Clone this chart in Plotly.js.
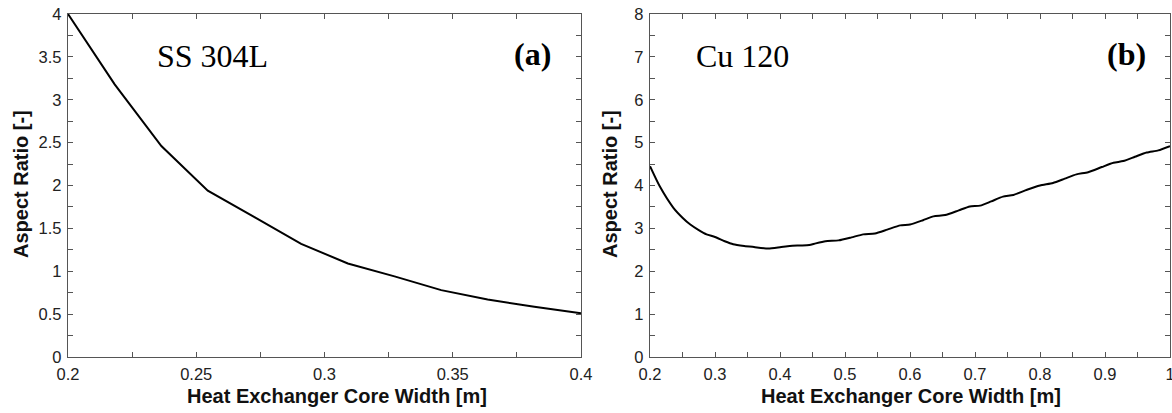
<!DOCTYPE html>
<html>
<head>
<meta charset="utf-8">
<script src="https://cdn.plot.ly/plotly-3.0.1.min.js"></script>
<style>html,body{margin:0;padding:0;background:#fff;}#chart{width:1172px;height:413px;}</style>
</head>
<body>
<div id="chart"></div>
<script>
// Panel (a): SS 304L
const widthA = [0.2, 0.2182, 0.2364, 0.2545, 0.2727, 0.2909, 0.3091, 0.3273, 0.3455, 0.3636, 0.3818, 0.4];
const ratioA = [4.0, 3.18, 2.46, 1.94, 1.63, 1.32, 1.09, 0.94, 0.78, 0.67, 0.585, 0.51];

// Panel (b): Cu 120
const widthB = [0.2, 0.215, 0.236, 0.25, 0.262, 0.275, 0.287, 0.3, 0.315, 0.328, 0.345, 0.36, 0.382, 0.4, 0.415, 0.431,
  0.445, 0.455, 0.47, 0.49, 0.51, 0.528, 0.546, 0.565, 0.585, 0.6, 0.62, 0.636, 0.654, 0.675, 0.692, 0.708, 0.725,
  0.743, 0.759, 0.78, 0.8, 0.82, 0.838, 0.856, 0.874, 0.895, 0.913, 0.928, 0.946, 0.964, 0.982, 1.0];
const ratioB = [4.45, 3.98, 3.48, 3.25, 3.09, 2.96, 2.86, 2.80, 2.70, 2.63, 2.59, 2.565, 2.53, 2.56, 2.59, 2.60,
  2.61, 2.65, 2.70, 2.72, 2.79, 2.86, 2.88, 2.97, 3.07, 3.09, 3.19, 3.28, 3.31, 3.42, 3.51, 3.53, 3.63,
  3.74, 3.78, 3.90, 4.0, 4.06, 4.16, 4.26, 4.31, 4.43, 4.53, 4.57, 4.67, 4.77, 4.82, 4.92];

// Tick values for the x axis of panel (b)
const xTicksB = [0.2, 0.3, 0.4, 0.5, 0.6, 0.7, 0.8, 0.9, 1.0];
const xTickTextB = ["0.2", "0.3", "0.4", "0.5", "0.6", "0.7", "0.8", "0.9", "1"];

const xTitle = "Heat Exchanger Core Width [m]";
const yTitle = "Aspect Ratio [-]";
const labelA = "SS 304L", tagA = "(a)";
const labelB = "Cu 120", tagB = "(b)";

const W = 1172, H = 413;
const axisColor = "#555";
const sans = "Arial, Liberation Sans, sans-serif";
const serif = "Times New Roman, Liberation Serif, serif";
const tickFont = {family: sans, size: 16.5, color: "#222"};
const titleFont = {family: sans, size: 20, color: "#111", weight: "bold"};

function xAxis(domain, range, dtick, minorDtick) {
  return {
    domain: domain, range: range, dtick: dtick, tick0: 0,
    showline: true, linecolor: axisColor, linewidth: 1.2, mirror: "ticks",
    ticks: "inside", ticklen: 5, tickcolor: axisColor, tickwidth: 1,
    minor: {dtick: minorDtick, tick0: 0, ticks: "inside", ticklen: 5, tickcolor: axisColor, tickwidth: 1, showgrid: false},
    showgrid: false, zeroline: false, tickfont: tickFont, ticklabelstandoff: 2, ticklabeloverflow: "allow"
  };
}
function yAxis(domain, range, dtick, minorDtick, anchor) {
  return {
    domain: domain, range: range, dtick: dtick, tick0: 0, anchor: anchor,
    showline: true, linecolor: axisColor, linewidth: 1.2, mirror: "ticks",
    ticks: "inside", ticklen: 5, tickcolor: axisColor, tickwidth: 1,
    minor: {dtick: minorDtick, tick0: 0, ticks: "inside", ticklen: 5, tickcolor: axisColor, tickwidth: 1, showgrid: false},
    showgrid: false, zeroline: false, tickfont: tickFont, ticklabelstandoff: 2
  };
}

const yDom = [1 - 357 / H, 1 - 14 / H];

const data = [
  {x: widthA, y: ratioA, xaxis: "x", yaxis: "y", mode: "lines", line: {color: "#000", width: 2}, showlegend: false},
  {x: widthB, y: ratioB, xaxis: "x2", yaxis: "y2", mode: "lines", line: {color: "#000", width: 2, shape: "spline", smoothing: 0.6}, showlegend: false}
];

function ann(x, y, text, font, extra) {
  return Object.assign({xref: "paper", yref: "paper", x: x / W, y: 1 - y / H, text: text, showarrow: false,
    xanchor: "center", yanchor: "middle", font: font}, extra || {});
}

const xB = xAxis([650 / W, 1170 / W], [0.2, 1.0], 0.1, 0.05);
xB.anchor = "y2";
xB.tickmode = "array";
xB.tickvals = xTicksB;
xB.ticktext = xTickTextB;

const layout = {
  width: W, height: H,
  margin: {l: 0, r: 0, t: 0, b: 0},
  paper_bgcolor: "#fff", plot_bgcolor: "#fff",
  xaxis: xAxis([68 / W, 581 / W], [0.2, 0.4], 0.05, 0.025),
  yaxis: yAxis(yDom, [0, 4], 0.5, 0.25, "x"),
  xaxis2: xB,
  yaxis2: yAxis(yDom, [0, 8], 1, 0.5, "x2"),
  annotations: [
    ann(212, 56, labelA, {family: serif, size: 32, color: "#000"}),
    ann(532, 54, tagA, {family: serif, size: 32, color: "#000", weight: "bold"}),
    ann(742, 56, labelB, {family: serif, size: 32, color: "#000"}),
    ann(1126, 54, tagB, {family: serif, size: 32, color: "#000", weight: "bold"}),
    ann(337, 396, xTitle, titleFont),
    ann(911, 396, xTitle, titleFont),
    ann(21, 184, yTitle, titleFont, {textangle: -90}),
    ann(610, 184, yTitle, titleFont, {textangle: -90})
  ]
};

Plotly.newPlot("chart", data, layout, {displayModeBar: false, staticPlot: true});
</script>
</body>
</html>
